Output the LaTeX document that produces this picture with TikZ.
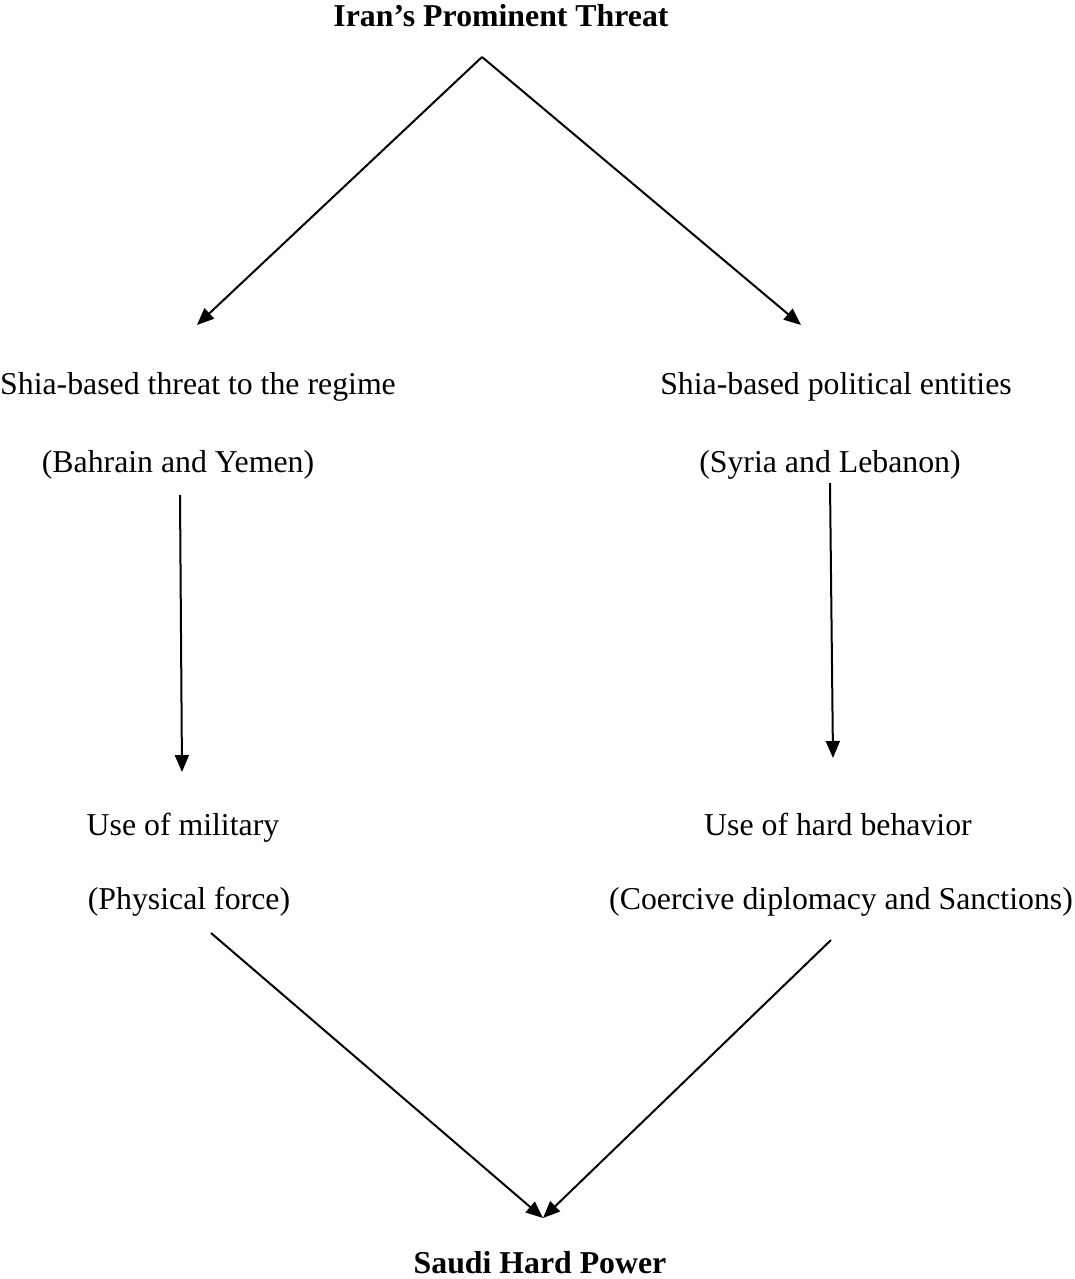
\documentclass[tikz,border=0pt]{standalone}
\usepackage{fontspec}
\setmainfont{Liberation Serif}
\usetikzlibrary{arrows.meta}
\begin{document}
\begin{tikzpicture}[x=1pt,y=-1pt,
  lbl/.style={inner sep=0pt,anchor=base,font=\fontsize{31.8}{38}\selectfont},
  blbl/.style={lbl,font=\fontsize{31.8}{38}\selectfont\bfseries},
  conn/.style={line width=2pt,-{Triangle[length=17pt,width=14pt]}}]
\useasboundingbox[fill=white] (0,0) rectangle (1074,1279);
% texts
\node[blbl] (top) at (501,27) {Iran’s Prominent Threat};
\node[lbl] (l1) at (198,394) {Shia-based threat to the regime};
\node[lbl] (l2) at (178,472) {(Bahrain and Yemen)};
\node[lbl] (r1) at (836,394) {Shia-based political entities};
\node[lbl] (r2) at (830,472) {(Syria and Lebanon)};
\node[lbl] (l3) at (183,835) {Use of military};
\node[lbl] (l4) at (189,909) {(Physical force)};
\node[lbl] (r3) at (838,835) {Use of hard behavior};
\node[lbl] (r4) at (841,909) {(Coercive diplomacy and Sanctions)};
\node[blbl] (bot) at (540,1273) {Saudi Hard Power};
% connector end points
\coordinate (apex) at (482,57);
\coordinate (ltip) at (197,325);
\coordinate (rtip) at (801,325);
\coordinate (lvs) at (180,495);
\coordinate (lve) at (182,772);
\coordinate (rvs) at (830,483);
\coordinate (rve) at (833,758);
\coordinate (lbs) at (211,933);
\coordinate (rbs) at (831,940);
\coordinate (btip) at (543,1218);
% connectors
\draw[conn] (apex) -- (ltip);
\draw[conn] (apex) -- (rtip);
\draw[conn] (lvs) -- (lve);
\draw[conn] (rvs) -- (rve);
\draw[conn] (lbs) -- (btip);
\draw[conn] (rbs) -- (btip);
\end{tikzpicture}
\end{document}
